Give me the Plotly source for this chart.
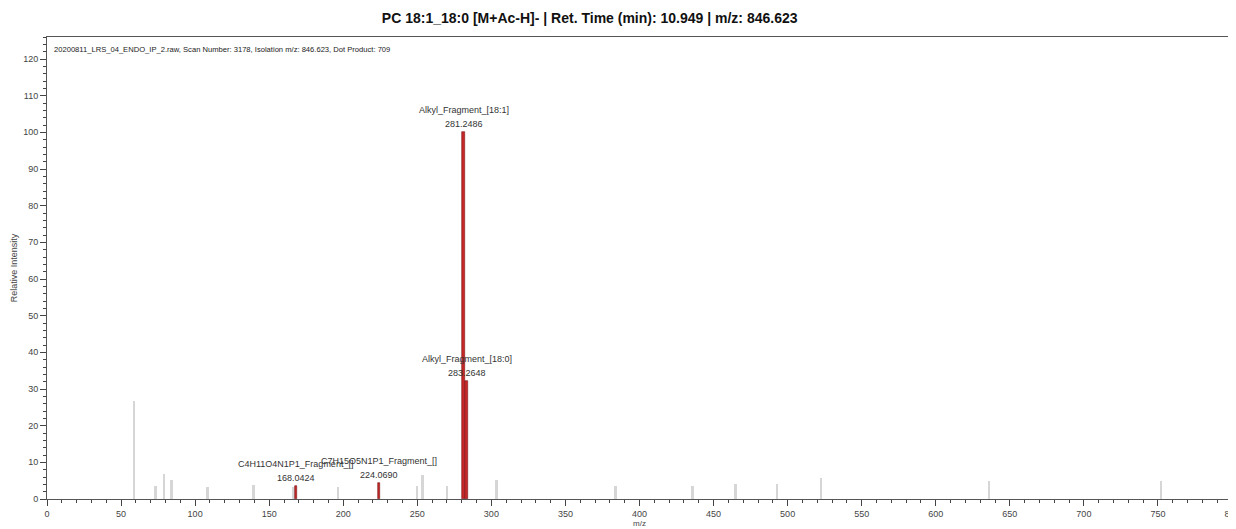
import plotly.graph_objects as go

# Unannotated peaks (m/z, relative intensity)
gray_mz = [59.0, 73.4, 79.0, 84.2, 108.5, 139.6, 166.6, 196.4, 250.0, 253.6, 270.3,
           303.6, 384.0, 436.0, 464.9, 493.2, 522.5, 636.0, 752.2]
gray_int = [26.6, 3.6, 6.9, 5.3, 3.4, 3.8, 3.4, 3.2, 3.6, 6.6, 3.6,
            5.3, 3.6, 3.6, 4.2, 4.2, 5.7, 4.8, 4.8]

# Annotated fragment peaks
frag_mz = [168.0424, 224.0690, 281.2486, 283.2648]
frag_int = [3.6, 4.3, 100.0, 32.3]
frag_names = ["C4H11O4N1P1_Fragment_[]", "C7H15O5N1P1_Fragment_[]",
              "Alkyl_Fragment_[18:1]", "Alkyl_Fragment_[18:0]"]
frag_labels = ["168.0424", "224.0690", "281.2486", "283.2648"]

x_ticks = list(range(0, 801, 50))
y_ticks = list(range(0, 121, 10))

title_text = "PC 18:1_18:0 [M+Ac-H]- | Ret. Time (min): 10.949 | m/z: 846.623"
info_text = "20200811_LRS_04_ENDO_IP_2.raw, Scan Number: 3178, Isolation m/z: 846.623, Dot Product: 709"

fig = go.Figure()
fig.add_trace(go.Bar(x=gray_mz, y=gray_int, width=1.2,
                     marker=dict(color="#d6d6d6", line=dict(width=0)),
                     showlegend=False, hoverinfo="x+y"))
fig.add_trace(go.Bar(x=frag_mz, y=frag_int, width=1.8,
                     marker=dict(color="#c62828", line=dict(color="#7a1515", width=0.6)),
                     showlegend=False, hoverinfo="x+y"))

txt_col = "#333333"
for mz, it, nm, lb in zip(frag_mz, frag_int, frag_names, frag_labels):
    fig.add_annotation(x=mz, y=it, text=lb, showarrow=False, yanchor="bottom",
                       yshift=1, font=dict(size=9, color=txt_col, family="Arial"))
    fig.add_annotation(x=mz, y=it, text=nm, showarrow=False, yanchor="bottom",
                       yshift=15, font=dict(size=9, color=txt_col, family="Arial"))

fig.add_annotation(xref="paper", yref="paper", x=0.004, y=0.974, xanchor="left", yanchor="middle",
                   text=info_text, showarrow=False,
                   font=dict(size=7.6, color="#222222", family="Arial"))

# page body has an 8px margin: figure is sized/margined to compensate
fig.update_layout(
    width=1228, height=521,
    margin=dict(l=39, r=4, t=29, b=30, autoexpand=False),
    paper_bgcolor="white", plot_bgcolor="white",
    bargap=0, barmode="overlay",
    title=dict(text="<b>" + title_text + "</b>", x=0.4737, xanchor="center", y=0.980, yanchor="middle",
               font=dict(size=14, color="#111111", family="Arial")),
    font=dict(family="Arial", color="#444444"),
)
fig.update_xaxes(range=[0, 800], tickmode="array", tickvals=x_ticks, ticktext=[str(v) for v in x_ticks],
                 ticklabeloverflow="allow",
                 ticks="outside", ticklen=6, tickwidth=1,
                 tickcolor="#444", showline=True, linecolor="#555", linewidth=1, mirror=True,
                 showgrid=False, zeroline=False, automargin=False,
                 tickfont=dict(size=9, color="#444"),
                 minor=dict(dtick=10, tick0=0, ticks="outside", ticklen=3, tickcolor="#444"),
                 title=dict(text="m/z", font=dict(size=8, color="#444"), standoff=0))
fig.update_yaxes(range=[0, 126], tickmode="array", tickvals=y_ticks, ticktext=[str(v) for v in y_ticks],
                 ticks="outside", ticklen=6, tickwidth=1,
                 tickcolor="#444", showline=True, linecolor="#555", linewidth=1, mirror=True,
                 showgrid=False, zeroline=False, automargin=False,
                 tickfont=dict(size=9, color="#444"),
                 minor=dict(dtick=2, tick0=0, ticks="outside", ticklen=3, tickcolor="#444"),
                 title=dict(text="Relative Intensity", font=dict(size=9, color="#444"), standoff=4))

fig.write_html("out.html")
